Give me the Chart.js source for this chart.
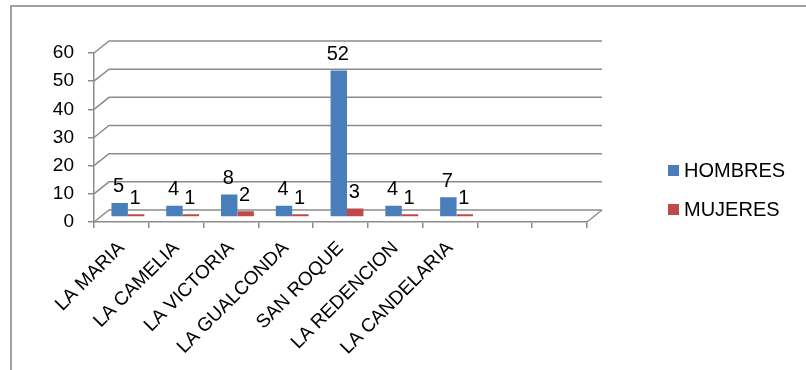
<!DOCTYPE html>
<html>
<head>
<meta charset="utf-8">
<script src="https://cdn.jsdelivr.net/npm/chart.js@4/dist/chart.umd.min.js"></script>
<style>
    body { margin: 0; background: #fff; }
    #wrap { position: relative; width: 806px; height: 370px; }
    #frame { position: absolute; left: 10px; top: 5px; width: 800px; height: 370px;
             border-top: 2px solid #a0a0a0; border-left: 2px solid #a0a0a0; }
    canvas { position: absolute; left: 0; top: 0; }
</style>
</head>
<body>
<div id="wrap">
    <div id="frame"></div>
    <canvas id="chart" width="806" height="370"></canvas>
</div>
<script>
// Data (two empty slots on the right of the axis)
const categories = ['LA MARIA', 'LA CAMELIA', 'LA VICTORIA', 'LA GUALCONDA', 'SAN ROQUE', 'LA REDENCION', 'LA CANDELARIA', '', ''];
const hombres = [5, 4, 8, 4, 52, 4, 7, null, null];
const mujeres = [1, 1, 2, 1, 3, 1, 1, null, null];
const yTicks = [0, 10, 20, 30, 40, 50, 60];

const FONT = "'Liberation Sans', Arial, sans-serif";
const GRID = '#8c8c8c';
const DEPTH_X = 15, DEPTH_Y = -12;

// 3D-ish walls: back gridlines pushed up/right, floor edge
const wallPlugin = {
    id: 'walls',
    beforeDatasetsDraw(chart) {
        const { ctx, chartArea: a, scales: { y } } = chart;
        ctx.save();
        ctx.strokeStyle = GRID;
        ctx.lineWidth = 1.5;
        yTicks.forEach(v => {
            const py = y.getPixelForValue(v);
            ctx.beginPath();
            ctx.moveTo(a.left, py);
            ctx.lineTo(a.left + DEPTH_X, py + DEPTH_Y);
            ctx.lineTo(a.right + DEPTH_X, py + DEPTH_Y);
            ctx.stroke();
        });
        ctx.beginPath();
        ctx.moveTo(a.right, a.bottom);
        ctx.lineTo(a.right + DEPTH_X, a.bottom + DEPTH_Y);
        ctx.stroke();
        ctx.restore();
        // bars sit halfway into the floor
        ctx.save();
        ctx.translate(DEPTH_X / 2 - 1, DEPTH_Y / 2 + 1);
    },
    afterDatasetsDraw(chart) {
        const ctx = chart.ctx;
        ctx.restore();
        // value labels
        ctx.save();
        ctx.font = '20px ' + FONT;
        ctx.fillStyle = '#000';
        ctx.textAlign = 'center';
        ctx.textBaseline = 'bottom';
        chart.data.datasets.forEach((ds, i) => {
            chart.getDatasetMeta(i).data.forEach((bar, j) => {
                if (ds.data[j] == null) return;
                ctx.fillText(ds.data[j], bar.x + DEPTH_X / 2 - 2, bar.y + DEPTH_Y / 2 - 5);
            });
        });
        ctx.restore();
    },
    afterDraw(chart) {
        const ctx = chart.ctx;
        ctx.save();
        ctx.font = '20px ' + FONT;
        ctx.textBaseline = 'middle';
        chart.data.datasets.forEach((ds, i) => {
            const top = 165 + i * 39;
            ctx.fillStyle = ds.backgroundColor;
            ctx.fillRect(668, top, 11, 11);
            ctx.fillStyle = '#000';
            ctx.fillText(ds.label, 684, top + 6);
        });
        ctx.restore();
    }
};

new Chart(document.getElementById('chart').getContext('2d'), {
    type: 'bar',
    data: {
        labels: categories,
        datasets: [
            { label: 'HOMBRES', data: hombres, backgroundColor: '#4a7ebb', categoryPercentage: 0.6, barPercentage: 1 },
            { label: 'MUJERES', data: mujeres, backgroundColor: '#be4b48', categoryPercentage: 0.6, barPercentage: 1 }
        ]
    },
    options: {
        responsive: false,
        animation: false,
        layout: { padding: { top: 53, right: 219, left: 0, bottom: 0 } },
        plugins: { legend: { display: false }, tooltip: { enabled: false } },
        scales: {
            x: {
                grid: { drawOnChartArea: false, color: GRID, tickLength: 6, lineWidth: 1.5 },
                border: { color: GRID, width: 1.5 },
                ticks: { color: '#000', font: { family: FONT, size: 19 }, minRotation: 45, maxRotation: 45, autoSkip: false, padding: 9 },
                afterFit(scale) { scale.height = 148; }
            },
            y: {
                min: 0, max: 60,
                grid: { drawOnChartArea: false, color: GRID, tickLength: 6, lineWidth: 1.5 },
                border: { color: GRID, width: 1.5 },
                ticks: { stepSize: 10, color: '#000', font: { family: FONT, size: 19 }, padding: 14 },
                afterFit(scale) { scale.width = 94; }
            }
        }
    },
    plugins: [wallPlugin]
});
</script>
</body>
</html>
